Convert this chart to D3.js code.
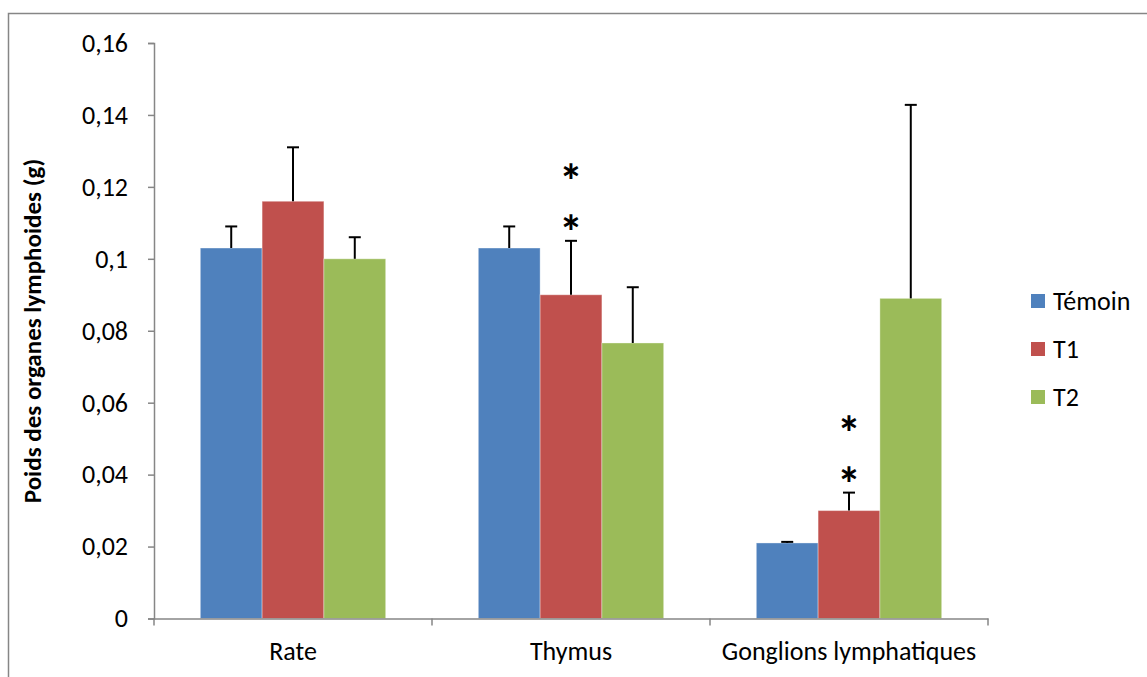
<!DOCTYPE html>
<html>
<head>
<meta charset="utf-8">
<style>
body { margin: 0; background: #fff; }
text { font-family: Carlito, Lato, "Open Sans", sans-serif; }
</style>
</head>
<body>
<script src="https://cdn.jsdelivr.net/npm/d3@7"></script>
<script>
// data
var categories = ["Rate", "Thymus", "Gonglions lymphatiques"];
var series = ["Témoin", "T1", "T2"];
var colors = ["#4F81BD", "#C0504D", "#9BBB59"];
var temoin = [0.103, 0.103, 0.021];
var t1 = [0.116, 0.090, 0.030];
var t2 = [0.100, 0.0766, 0.089];
var temoinErr = [0.006, 0.006, 0.0003];
var t1Err = [0.015, 0.015, 0.005];
var t2Err = [0.006, 0.0155, 0.0538];
var yTicks = [0, 0.02, 0.04, 0.06, 0.08, 0.1, 0.12, 0.14, 0.16];
var yTickLabels = ["0", "0,02", "0,04", "0,06", "0,08", "0,1", "0,12", "0,14", "0,16"];
// significance marks: [category, series, number of stars]
var stars = [[1, 1, 2], [2, 1, 2]];

var values = [temoin, t1, t2];
var errs = [temoinErr, t1Err, t2Err];

var W = 1147, H = 677;
var fontSize = 26;
var svg = d3.select("body").append("svg")
  .attr("width", W)
  .attr("height", H);

// outer frame
svg.append("rect")
  .attr("x", 8.5).attr("y", 13.5)
  .attr("width", W + 10).attr("height", H + 10)
  .attr("fill", "none")
  .attr("stroke", "#868686")
  .attr("stroke-width", 1.5);

var plotLeft = 154, plotRight = 988, plotTop = 43, plotBottom = 618.5;

var y = d3.scaleLinear().domain([0, 0.16]).range([plotBottom, plotTop]);
var x0 = d3.scaleBand().domain(categories).range([plotLeft, plotRight]).paddingInner(0).paddingOuter(0);
var x1 = d3.scaleBand().domain(series).range([0, x0.bandwidth()]).paddingInner(0).paddingOuter(0.75);

// y axis
var yAxis = d3.axisLeft(y)
  .tickValues(yTicks)
  .tickSize(6)
  .tickPadding(20)
  .tickFormat(function(d, i) { return yTickLabels[i]; });
var gy = svg.append("g").attr("transform", "translate(" + plotLeft + ",0)").call(yAxis);
gy.select(".domain").attr("stroke", "#868686").attr("stroke-width", 1.5);
gy.selectAll(".tick line").attr("stroke", "#868686").attr("stroke-width", 1.5);
gy.selectAll(".tick text").attr("font-size", fontSize).attr("fill", "#000")
  .attr("font-family", "Carlito, Lato, 'Open Sans', sans-serif");

// bars
categories.forEach(function(c, ci) {
  series.forEach(function(s, si) {
    var v = values[si][ci];
    svg.append("rect")
      .attr("x", x0(c) + x1(s))
      .attr("y", y(v))
      .attr("width", x1.bandwidth())
      .attr("height", y(0) - y(v))
      .attr("fill", colors[si])
      .attr("stroke", "rgba(255,255,255,0.35)")
      .attr("stroke-width", 1);
  });
});

// error bars
categories.forEach(function(c, ci) {
  series.forEach(function(s, si) {
    var v = values[si][ci];
    var e = errs[si][ci];
    var cx = x0(c) + x1(s) + x1.bandwidth() / 2;
    svg.append("line")
      .attr("x1", cx).attr("x2", cx)
      .attr("y1", y(v)).attr("y2", y(v + e))
      .attr("stroke", "#000").attr("stroke-width", 2);
    svg.append("line")
      .attr("x1", cx - 6).attr("x2", cx + 6)
      .attr("y1", y(v + e)).attr("y2", y(v + e))
      .attr("stroke", "#000").attr("stroke-width", 2);
  });
});

// x axis
var xAxis = d3.axisBottom(x0).tickSize(0).tickPadding(23);
var gx = svg.append("g").attr("transform", "translate(0," + plotBottom + ")").call(xAxis);
gx.select(".domain").attr("stroke", "#868686").attr("stroke-width", 1.5);
gx.selectAll(".tick text").attr("font-size", fontSize).attr("fill", "#000")
  .attr("font-family", "Carlito, Lato, 'Open Sans', sans-serif");
// tick marks between categories
var bounds = categories.map(function(c) { return x0(c); }).concat([plotRight]);
gx.selectAll(".sep").data(bounds).enter().append("line")
  .attr("x1", function(d) { return d; }).attr("x2", function(d) { return d; })
  .attr("y1", 0).attr("y2", 7)
  .attr("stroke", "#868686").attr("stroke-width", 1.5);

// stars, stacked in one text element
stars.forEach(function(st) {
  var c = categories[st[0]], s = series[st[1]];
  var cx = x0(c) + x1(s) + x1.bandwidth() / 2;
  var topY = y(values[st[1]][st[0]] + errs[st[1]][st[0]]);
  var n = st[2];
  var t = svg.append("text")
    .attr("text-anchor", "middle")
    .attr("font-size", 48)
    .attr("font-weight", "bold");
  for (var k = n - 1; k >= 0; k--) {
    t.append("tspan")
      .attr("x", cx)
      .attr("y", topY + 8 - k * 51)
      .text("*");
  }
});

// y title
svg.append("text")
  .attr("transform", "translate(41,331) rotate(-90)")
  .attr("text-anchor", "middle")
  .attr("font-size", 25)
  .attr("font-weight", "bold")
  .text("Poids des organes lymphoides (g)");

// legend
var leg = svg.append("g");
series.forEach(function(s, i) {
  var ly = 301 + i * 48;
  leg.append("rect")
    .attr("x", 1031).attr("y", ly - 7)
    .attr("width", 14).attr("height", 14)
    .attr("fill", colors[i]);
  leg.append("text")
    .attr("x", 1053).attr("y", ly)
    .attr("dy", "0.35em")
    .attr("font-size", fontSize)
    .text(s);
});
</script>
</body>
</html>
